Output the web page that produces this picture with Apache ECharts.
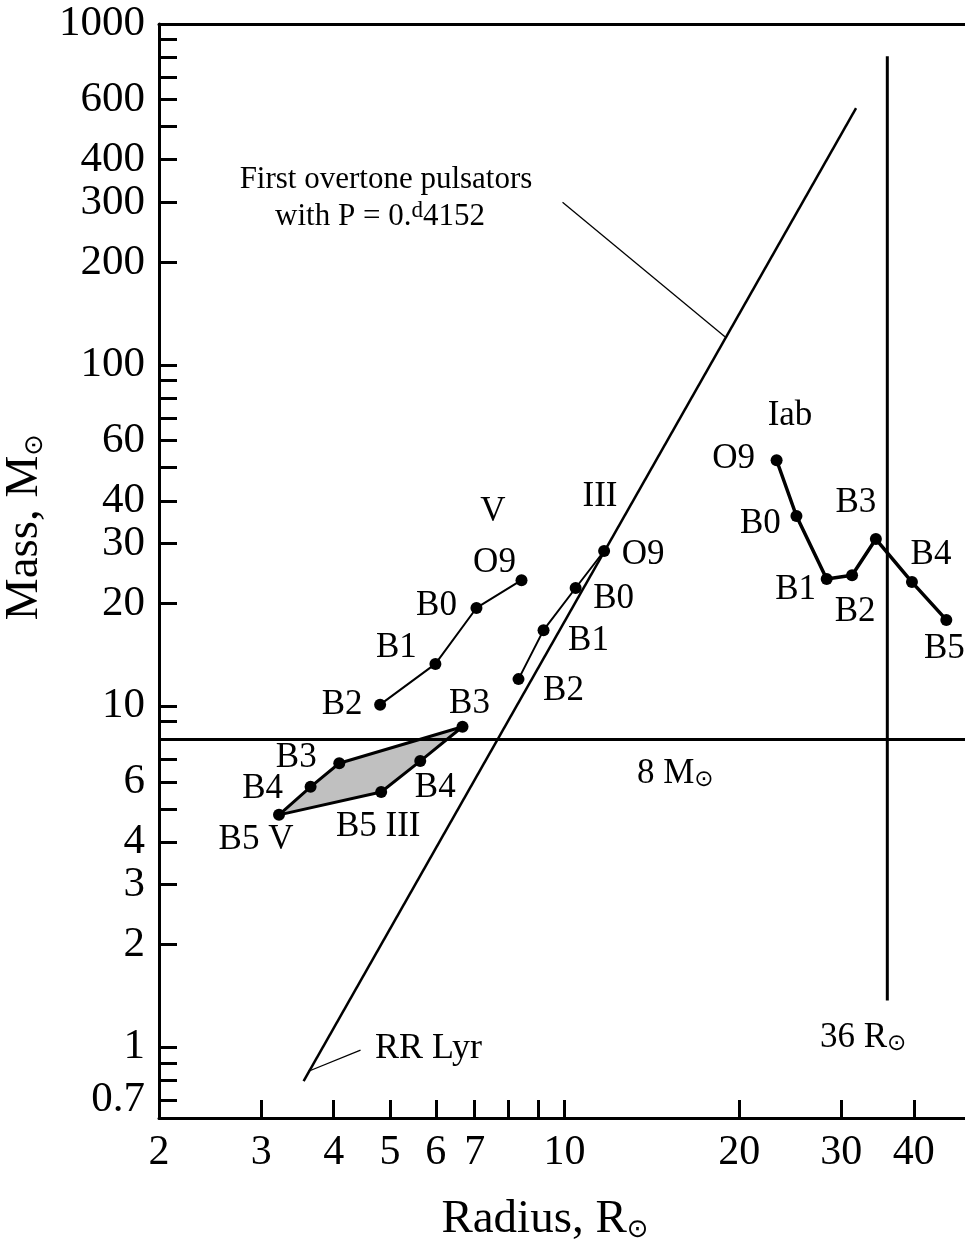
<!DOCTYPE html>
<html>
<head>
<meta charset="utf-8">
<script src="https://cdn.jsdelivr.net/npm/echarts@6/dist/echarts.min.js"></script>
<style>
  html, body { margin: 0; padding: 0; background: #fff; }
  #main { width: 965px; height: 1246px; }
</style>
</head>
<body>
<div id="main"></div>
<script>
// spectral sequences (radius in R_sun, mass in M_sun)
var vLabels = ['O9', 'B0', 'B1', 'B2', 'B3', 'B4', 'B5 V'];
var vRadius = [8.43, 7.05, 5.99, 4.81, 4.09, 3.65, 3.22];
var vMass = [23.4, 19.4, 13.3, 10.1, 6.8, 5.8, 4.8];

var iiiLabels = ['O9', 'B0', 'B1', 'B2', 'B3', 'B4', 'B5 III'];
var iiiRadius = [11.7, 10.45, 9.2, 8.33, 6.67, 5.64, 4.83];
var iiiMass = [28.5, 22.2, 16.7, 12.0, 8.7, 6.9, 5.6];

var iabLabels = ['O9', 'B0', 'B1', 'B2', 'B3', 'B4', 'B5'];
var iabRadius = [23.2, 25.1, 28.3, 31.3, 34.4, 39.7, 45.5];
var iabMass = [52.6, 36.1, 23.6, 24.2, 30.9, 23.1, 17.9];

// first overtone pulsators, P = 0.4152 d (M ~ R^3)
var pulsatorRadius = [3.55, 31.8];
var pulsatorMass = [0.795, 567];

var massLimit = 8;
var radiusLimit = 36;
var radiusLimitMass = [1.37, 805];

// leader lines of the two notes
var overtoneLeaderRadius = [9.92, 18.9];
var overtoneLeaderMass = [300, 121];
var rrLyrLeaderRadius = [4.45, 3.62];
var rrLyrLeaderMass = [0.98, 0.85];

var xTickValues = [3, 4, 5, 6, 7, 8, 9, 10, 20, 30, 40];
var xLabelValues = [2, 3, 4, 5, 6, 7, 10, 20, 30, 40];
var yTickValues = [0.7, 0.8, 0.9, 1, 2, 3, 4, 5, 6, 7, 8, 9, 10, 20, 30, 40, 50, 60, 70, 80, 90,
  100, 200, 300, 400, 500, 600, 700, 800, 900];
var yLabelValues = [0.7, 1, 2, 3, 4, 6, 10, 20, 30, 40, 60, 100, 200, 300, 400, 600, 1000];

// label offsets (px) from each dot
var vOffsets = [[-27, -17], [-40, -2], [-39, -16], [-38, 0], [-43, -5], [-48, 2], [-23, 25]];
var iiiOffsets = [[39, 4], [38, 11], [45, 11], [45, 12], [7, -23], [15, 27], [-3, 35]];
var iabOffsets = [[-43, -1], [-36, 8], [-31, 11], [3, 37], [-20, -36], [19, -27], [-2, 29]];

var serif = 'Liberation Serif';
var black = '#000';

var chartDom = document.getElementById('main');
var myChart = echarts.init(chartDom);

function zip(xs, ys) {
  return xs.map(function (x, i) { return [x, ys[i]]; });
}

function points(rs, ms, labels, offsets, idx) {
  return idx.map(function (i) {
    return {
      value: [rs[i], ms[i]],
      label: {
        show: true,
        position: 'inside',
        offset: offsets[i],
        formatter: labels[i],
        fontFamily: serif,
        fontSize: 35,
        color: black,
        opacity: 1
      }
    };
  });
}

function fmt(v) {
  return String(parseFloat(Number(v).toPrecision(6)));
}

var sunRich = {
  sun: { fontFamily: 'DejaVu Sans', fontSize: 26, color: black, verticalAlign: 'bottom' }
};

var upper = [0, 1, 2, 3];
var lower = [4, 5, 6];
var dotSize = 12;

var option = {
  animation: false,
  backgroundColor: '#fff',
  grid: { left: 159, right: 0, top: 24, bottom: 128, outerBoundsMode: 'none' },
  xAxis: [
    {
      type: 'log',
      min: 2,
      max: 49,
      position: 'bottom',
      name: 'Radius, R{sun|⊙}',
      nameLocation: 'middle',
      nameGap: 78,
      nameTextStyle: { fontFamily: serif, fontSize: 47, color: black, rich: sunRich, padding: [0, 34, 0, 0] },
      axisLine: { lineStyle: { color: black, width: 3 } },
      axisTick: { inside: true, length: 18, lineStyle: { color: black, width: 3 }, customValues: xTickValues },
      axisLabel: { customValues: xLabelValues, formatter: fmt, fontFamily: serif, fontSize: 42, color: black, margin: 14 },
      splitLine: { show: false },
      minorTick: { show: false }
    },
    {
      type: 'log',
      min: 2,
      max: 49,
      position: 'top',
      axisLine: { lineStyle: { color: black, width: 3 } },
      axisTick: { show: false },
      axisLabel: { show: false },
      splitLine: { show: false }
    }
  ],
  yAxis: {
    type: 'log',
    min: 0.62,
    max: 1000,
    name: 'Mass, M{sun|⊙}',
    nameLocation: 'middle',
    nameGap: 100,
    nameTextStyle: { fontFamily: serif, fontSize: 47, color: black, rich: sunRich, padding: [0, 0, 0, 88] },
    axisLine: { lineStyle: { color: black, width: 3 } },
    axisTick: { inside: true, length: 18, lineStyle: { color: black, width: 3 }, customValues: yTickValues },
    axisLabel: { customValues: yLabelValues, formatter: fmt, fontFamily: serif, fontSize: 43, color: black, margin: 14 },
    splitLine: { show: false },
    minorTick: { show: false }
  },
  series: [
    {
      type: 'line',
      silent: true,
      symbol: 'none',
      data: zip(pulsatorRadius, pulsatorMass),
      lineStyle: { color: black, width: 2.5 },
      markLine: {
        silent: true,
        symbol: 'none',
        label: { show: false },
        lineStyle: { color: black, width: 3, type: 'solid' },
        data: [{ yAxis: massLimit }]
      }
    },
    {
      type: 'line',
      silent: true,
      symbol: 'none',
      data: [[radiusLimit, radiusLimitMass[0]], [radiusLimit, radiusLimitMass[1]]],
      lineStyle: { color: black, width: 3 }
    },
    {
      type: 'line',
      silent: true,
      symbol: 'none',
      data: zip(overtoneLeaderRadius, overtoneLeaderMass),
      lineStyle: { color: black, width: 1.3 }
    },
    {
      type: 'line',
      silent: true,
      symbol: 'none',
      data: zip(rrLyrLeaderRadius, rrLyrLeaderMass),
      lineStyle: { color: black, width: 1.3 }
    },
    {
      // shaded B3-B5 region between classes V and III
      type: 'custom',
      silent: true,
      z: 3,
      data: [[vRadius[4], vMass[4]]],
      renderItem: function (params, api) {
        var pts = [4, 5, 6].map(function (i) { return api.coord([vRadius[i], vMass[i]]); })
          .concat([6, 5, 4].map(function (i) { return api.coord([iiiRadius[i], iiiMass[i]]); }));
        return {
          type: 'polygon',
          shape: { points: pts },
          style: { fill: '#c0c0c0', stroke: black, lineWidth: 3, lineJoin: 'round' }
        };
      }
    },
    {
      type: 'line',
      silent: true,
      z: 4,
      symbol: 'circle',
      symbolSize: dotSize,
      itemStyle: { color: black },
      lineStyle: { color: black, width: 2 },
      data: points(vRadius, vMass, vLabels, vOffsets, upper)
    },
    {
      type: 'line',
      silent: true,
      z: 4,
      symbol: 'circle',
      symbolSize: dotSize,
      itemStyle: { color: black },
      lineStyle: { color: black, width: 2 },
      data: points(iiiRadius, iiiMass, iiiLabels, iiiOffsets, upper)
    },
    {
      type: 'scatter',
      silent: true,
      z: 5,
      symbol: 'circle',
      symbolSize: dotSize,
      itemStyle: { color: black, opacity: 1 },
      data: points(vRadius, vMass, vLabels, vOffsets, lower)
        .concat(points(iiiRadius, iiiMass, iiiLabels, iiiOffsets, lower))
    },
    {
      type: 'line',
      silent: true,
      z: 4,
      symbol: 'circle',
      symbolSize: dotSize,
      itemStyle: { color: black },
      lineStyle: { color: black, width: 3.5 },
      data: points(iabRadius, iabMass, iabLabels, iabOffsets, [0, 1, 2, 3, 4, 5, 6])
    }
  ],
  graphic: [
    { type: 'text', x: 493, y: 512, style: { text: 'V', fontFamily: serif, fontSize: 35, fill: black, align: 'center', verticalAlign: 'middle' } },
    { type: 'text', x: 600, y: 497, style: { text: 'III', fontFamily: serif, fontSize: 35, fill: black, align: 'center', verticalAlign: 'middle' } },
    { type: 'text', x: 790, y: 416, style: { text: 'Iab', fontFamily: serif, fontSize: 35, fill: black, align: 'center', verticalAlign: 'middle' } },
    { type: 'text', x: 386, y: 180, style: { text: 'First overtone pulsators', fontFamily: serif, fontSize: 31, fill: black, align: 'center', verticalAlign: 'middle' } },
    {
      type: 'text', x: 380, y: 217,
      style: {
        text: 'with P = 0.{sup|d}4152', fontFamily: serif, fontSize: 31, fill: black, align: 'center', verticalAlign: 'middle',
        rich: { sup: { fontFamily: serif, fontSize: 23, fill: black, verticalAlign: 'top', padding: [0, 0, 12, 0] } }
      }
    },
    { type: 'text', x: 375, y: 1049, style: { text: 'RR Lyr', fontFamily: serif, fontSize: 36, fill: black, align: 'left', verticalAlign: 'middle' } },
    {
      type: 'text', x: 637, y: 774,
      style: { text: '8 M{sun|⊙}', fontFamily: serif, fontSize: 35, fill: black, align: 'left', verticalAlign: 'middle',
        rich: { sun: { fontFamily: 'DejaVu Sans', fontSize: 23, fill: black, verticalAlign: 'bottom' } } }
    },
    {
      type: 'text', x: 820, y: 1038,
      style: { text: '36 R{sun|⊙}', fontFamily: serif, fontSize: 35, fill: black, align: 'left', verticalAlign: 'middle',
        rich: { sun: { fontFamily: 'DejaVu Sans', fontSize: 23, fill: black, verticalAlign: 'bottom' } } }
    }
  ]
};

if (chartDom && myChart) {
  myChart.setOption(option);
} else {
  console.error('Failed to initialize the chart');
}
</script>
</body>
</html>
